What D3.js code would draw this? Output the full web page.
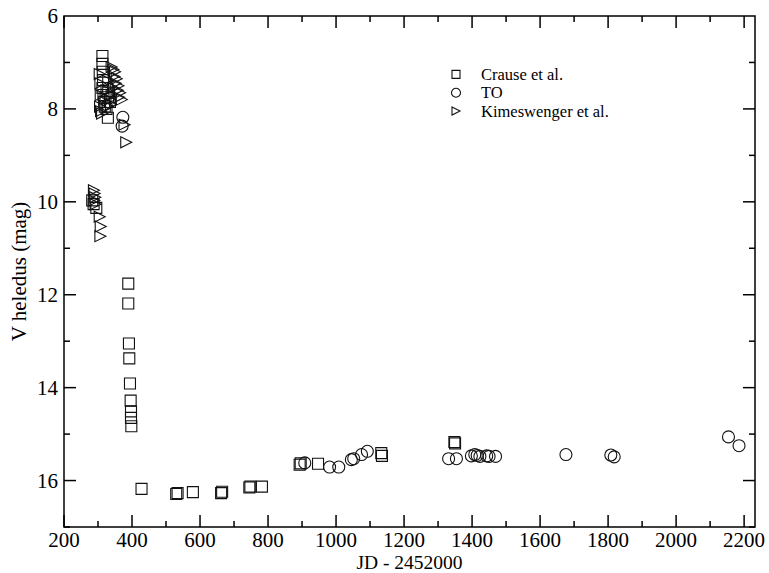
<!DOCTYPE html>
<html>
<head>
<meta charset="utf-8">
<script src="https://cdn.jsdelivr.net/npm/d3@7"></script>
<style>
  html, body { margin: 0; padding: 0; background: #fff; }
  svg text { font-family: "Liberation Serif", "Times New Roman", serif; fill: #000; }
</style>
</head>
<body>
<svg id="chart" width="769" height="573"></svg>
<script>
// Light curve: V magnitude versus JD - 2452000 from three sources.

// Crause et al. — [JD - 2452000, V]
const crauseJD = [313, 313, 314, 315, 313, 316, 318, 320, 325, 329, 330, 335, 322,
  283, 287, 295,
  389, 389, 391, 392, 394, 396, 397, 397, 398,
  428, 530, 534, 579, 662, 665, 745, 748, 782, 893, 896, 947, 1133, 1135, 1348, 1350];
const crauseV = [6.86, 7.03, 7.20, 7.38, 7.55, 7.70, 7.85, 7.95, 8.00, 8.19, 7.65, 7.85, 7.75,
  9.97, 10.05, 10.13,
  11.76, 12.19, 13.05, 13.37, 13.91, 14.28, 14.51, 14.65, 14.83,
  16.18, 16.29, 16.27, 16.25, 16.27, 16.24, 16.15, 16.13, 16.13, 15.66, 15.63, 15.64, 15.41, 15.47, 15.17, 15.20];

// TO
const toJD = [373, 371, 908, 981, 1008, 1045, 1052, 1075, 1092, 1331, 1354, 1398, 1408, 1415,
  1423, 1443, 1450, 1469, 1676, 1808, 1818, 2154, 2185];
const toV = [8.18, 8.37, 15.62, 15.71, 15.71, 15.55, 15.53, 15.44, 15.37, 15.53, 15.53, 15.47, 15.44, 15.46,
  15.48, 15.47, 15.48, 15.48, 15.44, 15.45, 15.49, 15.06, 15.25];

// Kimeswenger et al.
const kimJD = [305, 307, 308, 306, 309, 312,
  340, 345, 350, 348, 355, 352, 360, 358, 365, 362, 370, 345, 340, 335, 338, 330, 325, 330,
  378, 383,
  288, 290, 292, 289, 293, 305, 308, 307];
const kimV = [7.25, 7.45, 7.70, 7.95, 8.05, 8.10,
  7.10, 7.15, 7.20, 7.30, 7.35, 7.45, 7.50, 7.60, 7.65, 7.75, 7.80, 7.55, 7.70, 7.80, 7.90, 7.95, 7.60, 7.40,
  8.34, 8.72,
  9.75, 9.82, 9.90, 9.97, 10.05, 10.32, 10.53, 10.74];

const legendLabels = ["Crause et al.", "TO", "Kimeswenger et al."];
const xTicks = [200, 400, 600, 800, 1000, 1200, 1400, 1600, 1800, 2000, 2200];
const yTicks = [6, 8, 10, 12, 14, 16];

const svg = d3.select("#chart");
const pL = 64, pR = 755, pT = 16, pB = 527;

const x = d3.scaleLinear().domain([200, 2232]).range([pL, pR]);
const y = d3.scaleLinear().domain([6, 17]).range([pT, pB]);

const minorX = d3.range(200, 2232, 100).filter(v => v % 200 !== 0);
const minorY = d3.range(6, 17.01, 1).filter(v => v % 2 !== 0);

const g = svg.append("g");

// Frame
g.append("rect")
  .attr("x", pL).attr("y", pT)
  .attr("width", pR - pL).attr("height", pB - pT)
  .attr("fill", "none").attr("stroke", "#000").attr("stroke-width", 1.5);

// Inward ticks on all four sides
function ticks(values, len, scale, orient) {
  values.forEach(v => {
    const p = scale(v);
    if (orient === "x") {
      g.append("line").attr("x1", p).attr("x2", p).attr("y1", pB).attr("y2", pB - len)
        .attr("stroke", "#000").attr("stroke-width", 1.5);
      g.append("line").attr("x1", p).attr("x2", p).attr("y1", pT).attr("y2", pT + len)
        .attr("stroke", "#000").attr("stroke-width", 1.5);
    } else {
      g.append("line").attr("y1", p).attr("y2", p).attr("x1", pL).attr("x2", pL + len)
        .attr("stroke", "#000").attr("stroke-width", 1.5);
      g.append("line").attr("y1", p).attr("y2", p).attr("x1", pR).attr("x2", pR - len)
        .attr("stroke", "#000").attr("stroke-width", 1.5);
    }
  });
}
ticks(xTicks, 12, x, "x");
ticks(minorX, 6, x, "x");
ticks(yTicks.filter(v => v > 6), 12, y, "y");
ticks(minorY, 6, y, "y");

// Tick labels
g.selectAll(".xl").data(xTicks).enter().append("text")
  .attr("x", d => x(d)).attr("y", 546.5)
  .attr("text-anchor", "middle").attr("font-size", 21)
  .text(d => d);
g.selectAll(".yl").data(yTicks).enter().append("text")
  .attr("x", 58).attr("y", d => y(d)).attr("dy", "0.35em")
  .attr("text-anchor", "end").attr("font-size", 21)
  .text(d => d);

// Axis titles
g.append("text").attr("x", (pL + pR) / 2).attr("y", 568.7)
  .attr("text-anchor", "middle").attr("font-size", 19.5).text("JD - 2452000");
g.append("text").attr("transform", `translate(26,${(pT + pB) / 2}) rotate(-90)`)
  .attr("text-anchor", "middle").attr("font-size", 21).text("V heledus (mag)");

// Marker shapes
const sq = s => `M${-s/2},${-s/2}h${s}v${s}h${-s}Z`;
const tri = s => `M${-s/2},${-s/2}L${s/2},0L${-s/2},${s/2}Z`;

const plot = svg.append("g");
const mstroke = { fill: "none", stroke: "#111", "stroke-width": 1.1 };
function styleMarks(sel) {
  Object.entries(mstroke).forEach(([k, v]) => sel.attr(k, v));
  return sel;
}

styleMarks(plot.selectAll(".c").data(crauseJD.map((d, i) => [d, crauseV[i]])).enter().append("path")
  .attr("transform", d => `translate(${x(d[0])},${y(d[1])})`)
  .attr("d", sq(11)));

styleMarks(plot.selectAll(".t").data(toJD.map((d, i) => [d, toV[i]])).enter().append("circle")
  .attr("cx", d => x(d[0])).attr("cy", d => y(d[1])).attr("r", 6));

styleMarks(plot.selectAll(".k").data(kimJD.map((d, i) => [d, kimV[i]])).enter().append("path")
  .attr("transform", d => `translate(${x(d[0])},${y(d[1])})`)
  .attr("d", tri(11)));

// Legend
const lg = svg.append("g").attr("transform", "translate(456,74.4)");
legendLabels.forEach((lab, i) => {
  const row = lg.append("g").attr("transform", `translate(0,${i * 18.3})`);
  if (i === 0) styleMarks(row.append("path").attr("d", sq(8)));
  if (i === 1) styleMarks(row.append("circle").attr("r", 4.5));
  if (i === 2) styleMarks(row.append("path").attr("d", tri(8)));
  row.append("text").attr("x", 25).attr("dy", "0.35em").attr("font-size", 16.5).text(lab);
});
</script>
</body>
</html>
